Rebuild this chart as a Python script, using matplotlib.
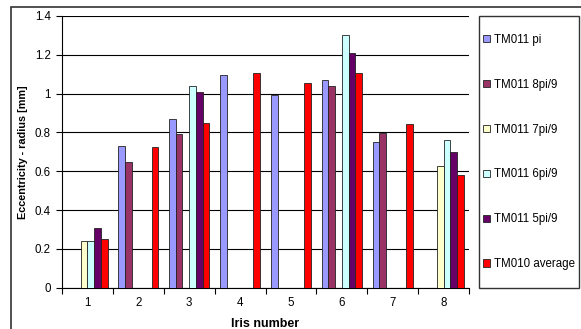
import numpy as np
import matplotlib
matplotlib.use("Agg")
import matplotlib.pyplot as plt
from matplotlib.patches import Rectangle

plt.rcParams['font.family'] = ['Liberation Sans', 'DejaVu Sans']

nan = np.nan
iris = [1, 2, 3, 4, 5, 6, 7, 8]
series_names = ['TM011 pi', 'TM011 8pi/9', 'TM011 7pi/9',
                'TM011 6pi/9', 'TM011 5pi/9', 'TM010 average']
tm011_pi = [nan, 0.73, 0.87, 1.095, 0.995, 1.07, 0.75, nan]
tm011_8pi9 = [nan, 0.65, 0.79, nan, nan, 1.04, 0.795, nan]
tm011_7pi9 = [0.24, nan, nan, nan, nan, nan, nan, 0.625]
tm011_6pi9 = [0.24, nan, 1.04, nan, nan, 1.30, nan, 0.76]
tm011_5pi9 = [0.31, nan, 1.01, nan, nan, 1.21, nan, 0.70]
tm010_avg = [0.25, 0.725, 0.85, 1.105, 1.053, 1.105, 0.845, 0.58]
colors = ['#9999FF', '#993366', '#FFFFCC', '#CCFFFF', '#660066', '#FF0000']

all_series = [tm011_pi, tm011_8pi9, tm011_7pi9, tm011_6pi9, tm011_5pi9, tm010_avg]

fig = plt.figure(figsize=(5.81, 3.29), dpi=100)
ax = fig.add_axes([62 / 581, 1 - 287.7 / 329, (469 - 62) / 581, (287.7 - 16) / 329])

x = np.array(iris, dtype=float)
w = 0.132
for i, (vals, c, name) in enumerate(zip(all_series, colors, series_names)):
    vals = np.array(vals, dtype=float)
    m = ~np.isnan(vals)
    ax.bar(x[m] + (i - 2.5) * w, vals[m], width=w, color=c,
           edgecolor='#222222', linewidth=0.6, zorder=3, label=name)

ax.set_xlim(0.5, 8.5)
ax.set_ylim(0, 1.4)
ax.set_yticks(np.arange(0, 1.41, 0.2))
ax.set_yticklabels(['0', '0.2', '0.4', '0.6', '0.8', '1', '1.2', '1.4'])
ax.yaxis.grid(True, color='black', linewidth=0.8, zorder=0)
ax.set_xticks(np.arange(0.5, 9, 1))
ax.set_xticklabels([])
ax.set_xticks(x, minor=True)
ax.set_xticklabels([str(i) for i in iris], minor=True)
ax.tick_params(axis='x', which='minor', length=0, pad=7, labelsize=8.3)
ax.tick_params(axis='x', which='major', length=4, width=0.8)
ax.tick_params(axis='y', length=4, width=0.8, labelsize=8.3, pad=4)
for s in ['top', 'right']:
    ax.spines[s].set_visible(False)
for s in ['left', 'bottom']:
    ax.spines[s].set_linewidth(0.8)
ax.set_axisbelow(True)

ax.set_xlabel('Iris number', fontsize=9, fontweight='bold', labelpad=6)
ax.set_ylabel('Eccentricity - radius [mm]', fontsize=7.8, fontweight='bold', labelpad=5)

# outer chart border
fig.patches.append(Rectangle((11 / 581, -0.1), 1.2, 1 - 6.5 / 329 + 0.1,
                             transform=fig.transFigure, fill=False,
                             edgecolor='#333333', linewidth=1.2))
# legend box
fig.patches.append(Rectangle((479 / 581, 1 - 288 / 329), 100 / 581, 272 / 329,
                             transform=fig.transFigure, fill=False,
                             edgecolor='#333333', linewidth=1.0))

handles = [Rectangle((0, 0), 1, 1, facecolor=c, edgecolor='#222222', linewidth=0.6)
           for c in colors]
fig.legend(handles, series_names, loc='center left',
           bbox_to_anchor=(483 / 581, 1 - 152 / 329), frameon=False,
           fontsize=8.3, handlelength=0.6, handleheight=0.6,
           handletextpad=0.35, labelspacing=2.85, borderpad=0, borderaxespad=0)

fig.savefig('out.png', dpi=100)
